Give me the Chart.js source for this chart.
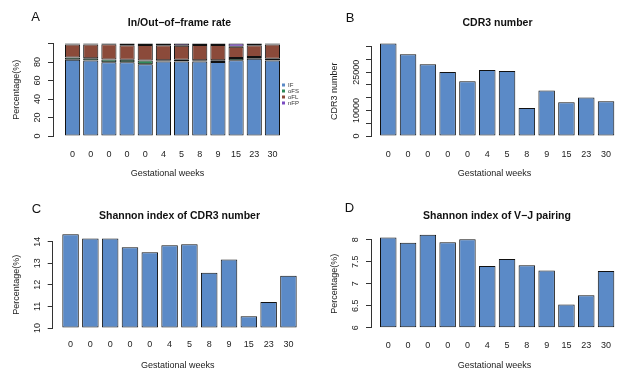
<!DOCTYPE html>
<html>
<head>
<meta charset="utf-8">
<script src="https://cdn.jsdelivr.net/npm/chart.js@4.4.0/dist/chart.umd.min.js"></script>
<style>
  html, body { margin: 0; padding: 0; background: #fff; overflow: hidden; }
  #wrap { position: relative; width: 622px; height: 372px; font-family: 'Liberation Sans', Arial, sans-serif; color: #111; }
  .panel { position: absolute; width: 311px; height: 186px; }
  .panel canvas { position: absolute; left: 0; top: 0; }
  .tag { position: absolute; font-size: 13px; line-height: 13px; transform: translate(-50%, -50%); }
  .ttl { position: absolute; font-size: 10.5px; line-height: 10.5px; font-weight: bold; white-space: nowrap; transform: translate(-50%, -50%); }
</style>
</head>
<body>
<div id="wrap">
  <div class="panel" style="left:0;top:0">
    <canvas id="chartA" width="311" height="186"></canvas>
    <div class="tag" style="left:35.5px;top:16px">A</div>
    <div class="ttl" style="left:179.5px;top:22px">In/Out−of−frame rate</div>
  </div>
  <div class="panel" style="left:311px;top:0">
    <canvas id="chartB" width="311" height="186"></canvas>
    <div class="tag" style="left:39px;top:17px">B</div>
    <div class="ttl" style="left:186.5px;top:22px">CDR3 number</div>
  </div>
  <div class="panel" style="left:0;top:186px">
    <canvas id="chartC" width="311" height="186"></canvas>
    <div class="tag" style="left:36.5px;top:22px">C</div>
    <div class="ttl" style="left:179.5px;top:28.5px">Shannon index of CDR3 number</div>
  </div>
  <div class="panel" style="left:311px;top:186px">
    <canvas id="chartD" width="311" height="186"></canvas>
    <div class="tag" style="left:38.5px;top:21px">D</div>
    <div class="ttl" style="left:186px;top:29px">Shannon index of V−J pairing</div>
  </div>
</div>
<script>
// data
const weeks = ['0', '0', '0', '0', '0', '4', '5', '8', '9', '15', '23', '30'];

const frameIF  = [82.5, 81.5, 79.7, 79.8, 77.5, 80.5, 80.5, 80.5, 80, 82, 83.5, 81.6];
const frameOFS = [2.5, 2.5, 3, 2.5, 4, 1.5, 1.8, 1.5, 2, 2.2, 2, 1.8];
const frameOFL = [14, 15, 16.5, 15.7, 17, 16, 15.2, 16.5, 16.5, 12.2, 12.7, 15.6];
const frameNFP = [1, 1, 0.8, 2, 1.5, 2, 2.5, 1.5, 1.5, 3.6, 1.8, 1];

const cdr3Count = [36300, 32000, 28100, 25100, 21500, 25900, 25500, 11000, 17800, 13200, 15100, 13600];
const shannonCDR3 = [14.34, 14.15, 14.15, 13.74, 13.51, 13.83, 13.88, 12.56, 13.18, 10.54, 11.2, 12.42];
const shannonVJ = [8.05, 7.93, 8.11, 7.94, 8.01, 7.40, 7.56, 7.42, 7.30, 6.53, 6.74, 7.29];

const yTicksA = [0, 20, 40, 60, 80, 100];
const yLabelsA = ['0', '20', '40', '60', '80', ''];
const yTicksB = [0, 5000, 10000, 15000, 20000, 25000, 30000, 35000];
const yLabelsB = ['0', '', '10000', '', '', '25000', '', ''];
const yTicksC = [10, 11, 12, 13, 14];
const yLabelsC = ['10', '11', '12', '13', '14'];
const yTicksD = [6, 6.5, 7, 7.5, 8];
const yLabelsD = ['6', '6.5', '7', '7.5', '8'];

const BLUE = '#5b8ac7';
const GREEN = '#2f8a5a';
const BROWN = '#8b4a3a';
const PURPLE = '#7b4cc2';
const EDGE = '#111';
const AXIS = '#333';
const FONT = "'Liberation Sans', Arial, sans-serif";

Chart.defaults.font.family = FONT;
Chart.defaults.font.size = 9;
Chart.defaults.color = '#222';

// R barplot layout: bar width 1, space 0.2
const SLOT = 1.2;
const slotX = i => 0.7 + SLOT * i;

//panel geometry (px inside each 311x186 panel)
const geo = {
  A: { axisX: 53, top: 43.5, base: 136, bar0: 65, bar1: 280, padR: 2, yTitleX: 17, yLabX: 37.5, xLabGap: 18.5, xTitleY: 174 },
  B: { axisX: 60, top: 46.7, base: 136, bar0: 69, bar1: 303.3, padR: 4, yTitleX: 23.5, yLabX: 45.5, xLabGap: 19, xTitleY: 174 },
  C: { axisX: 52.7, top: 55.7, base: 142, bar0: 62.3, bar1: 296.7, padR: 8, yTitleX: 17, yLabX: 38, xLabGap: 17, xTitleY: 180 },
  D: { axisX: 60, top: 53.7, base: 141.7, bar0: 69, bar1: 303.3, padR: 4, yTitleX: 24, yLabX: 44.5, xLabGap: 18, xTitleY: 180 },
};

const mctx = document.createElement('canvas').getContext('2d');

function barSet(label, values, color, base) {
  return {
    label,
    data: values.map((v, i) => ({ x: slotX(i), y: v })),
    backgroundColor: color,
    borderColor: EDGE,
    borderWidth: 1,
    borderSkipped: false,
    base,
    clip: false,
  };
}

function makeChart(canvasId, g, datasets, yTicks, yLabels, yTitle, showLegend) {
  const pxPerUnit = (g.bar1 - g.bar0) / 14.2;
  const xMin = 0.2 - (g.bar0 - g.axisX) / pxPerUnit;
  const tickLen = 5;
  mctx.font = `9px ${FONT}`;
  const widest = Math.max(...yLabels.map(t => mctx.measureText(t).width));

  return new Chart(document.getElementById(canvasId), {
    type: 'bar',
    data: { datasets },
    options: {
      responsive: false,
      animation: false,
      devicePixelRatio: 1,
      layout: { padding: { top: g.top, right: g.padR, bottom: 0, left: 0 } },
      datasets: { bar: { barPercentage: 1 / SLOT, categoryPercentage: 1 } },
      plugins: {
        tooltip: { enabled: false },
        legend: {
          display: showLegend,
          position: 'right',
          fullSize: false,
          align: 'center',
          title: { display: true, text: '', padding: 0, font: { size: 7 } },
          labels: {
            boxWidth: 3, boxHeight: 3, padding: 0,
            font: { size: 6 }, color: '#333',
            generateLabels: ch => Chart.defaults.plugins.legend.labels.generateLabels(ch)
              .map(l => ({ ...l, lineWidth: 0 }))
          }
        }
      },
      scales: {
        x: {
          type: 'linear',
          offset: false,
          bounds: 'data',
          stacked: true,
          grid: { display: false, drawTicks: false },
          border: { display: false },
          afterDataLimits: s => { s.min = xMin; s.max = xMin + s.width / pxPerUnit; },
          afterBuildTicks: s => { s.ticks = weeks.map((w, i) => ({ value: slotX(i) })); },
          ticks: {
            autoSkip: false, maxRotation: 0, minRotation: 0,
            padding: g.xLabGap - 5.4,
            callback: (v, i) => weeks[i]
          },
          title: {
            display: true, text: 'Gestational weeks',
            padding: { top: 0, bottom: 186 - g.xTitleY - 5.4 }
          },
          afterFit: s => { s.height = 186 - g.base; s.paddingLeft = 0; s.paddingRight = 0; }
        },
        y: {
          min: yTicks[0],
          max: yTicks[yTicks.length - 1],
          bounds: 'data',
          beginAtZero: false,
          stacked: true,
          afterBuildTicks: s => { s.ticks = yTicks.map(v => ({ value: v })); },
          ticks: {
            autoSkip: false, minRotation: 90, maxRotation: 90, crossAlign: 'center',
            padding: (g.axisX - g.yLabX) - tickLen - widest / 2,
            callback: (v, i) => yLabels[i]
          },
          grid: { drawOnChartArea: false, drawTicks: true, tickLength: tickLen, color: AXIS, lineWidth: 1 },
          border: { display: true, color: AXIS, width: 1 },
          title: { display: true, text: yTitle, padding: { top: g.yTitleX - 5.4, bottom: 0 } },
          afterFit: s => { s.width = g.axisX; s.paddingTop = 0; s.paddingBottom = 0; }
        }
      }
    }
  });
}

makeChart('chartA', geo.A, [
  barSet('IF', frameIF, BLUE, 0),
  barSet('oFS', frameOFS, GREEN, undefined),
  barSet('oFL', frameOFL, BROWN, undefined),
  barSet('nFP', frameNFP, PURPLE, undefined),
], yTicksA, yLabelsA, 'Percentage(%)', true);

makeChart('chartB', geo.B, [barSet('CDR3 number', cdr3Count, BLUE, 0)],
  yTicksB, yLabelsB, 'CDR3 number', false);

makeChart('chartC', geo.C, [barSet('Shannon index of CDR3 number', shannonCDR3, BLUE, 10)],
  yTicksC, yLabelsC, 'Percentage(%)', false);

makeChart('chartD', geo.D, [barSet('Shannon index of V-J pairing', shannonVJ, BLUE, 6)],
  yTicksD, yLabelsD, 'Percentage(%)', false);
</script>
</body>
</html>
